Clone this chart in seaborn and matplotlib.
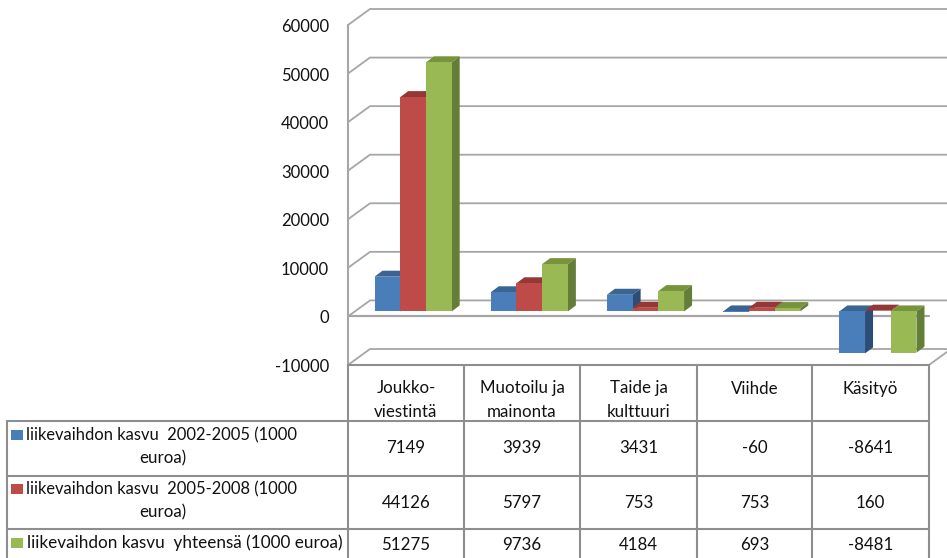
import matplotlib
matplotlib.use("Agg")
import matplotlib.pyplot as plt
import pandas as pd
import seaborn as sns
from matplotlib.patches import Polygon, Rectangle
from matplotlib.transforms import Affine2D

categories = ["Joukko-\nviestintä", "Muotoilu ja\nmainonta", "Taide ja\nkulttuuri", "Viihde", "Käsityö"]
series_names = ["liikevaihdon kasvu  2002-2005 (1000",
                "liikevaihdon kasvu  2005-2008 (1000",
                "liikevaihdon kasvu  yhteensä (1000 euroa)"]
kasvu_02_05 = [7149, 3939, 3431, -60, -8641]
kasvu_05_08 = [44126, 5797, 753, 753, 160]
kasvu_yht = [51275, 9736, 4184, 693, -8481]
y_ticks = [-10000, 0, 10000, 20000, 30000, 40000, 50000, 60000]

W, H = 947, 558
front_cols = ["#4A7EBB", "#BE4B48", "#98B954"]
top_cols = ["#3A6491", "#953735", "#77933C"]
side_cols = ["#2C4D75", "#772C2A", "#647E38"]
grid_col = "#a6a6a6"
tbl_col = "#8e8e8e"

sns.set_theme(style="white")
plt.rcParams["font.family"] = ["Lato", "DejaVu Sans"]

df = pd.DataFrame({
    "cat": categories * 3,
    "serie": ["a"] * 5 + ["b"] * 5 + ["c"] * 5,
    "val": kasvu_02_05 + kasvu_05_08 + kasvu_yht,
})

fig = plt.figure(figsize=(W / 100, H / 100), dpi=100)
# front plane of the fake 3d box, in pixels
ax = fig.add_axes([348 / W, 1 - 365 / H, 581 / W, 340 / H])
sns.barplot(data=df, x="cat", y="val", hue="serie", palette=front_cols, saturation=1,
            width=0.664, gap=0, legend=False, ax=ax)
ax.set_xlim(-0.5, 4.5)
ax.set_ylim(-10000, 60000)
ax.axis("off")


def px(x, y):
    return ax.transData.transform((x, y))


def shifted(dx, dy):
    return ax.transData + Affine2D().translate(dx, dy)


# back wall lines + diagonals
back = (22, 16)
for v in y_ticks:
    p0 = px(-0.5, v)
    ax.plot([p0[0], p0[0] + back[0], 960], [p0[1], p0[1] + back[1], p0[1] + back[1]],
            transform=None, color=grid_col, lw=1.3, clip_on=False, zorder=1)
    fig.text((p0[0] - 19) / W, (p0[1] - 2) / H, str(v), ha="right", va="center",
             fontsize=12, color="#111111")
# floor front edge and right diagonal
ax.plot([-0.5, 4.5], [0, 0], color=grid_col, lw=1.6, clip_on=False, zorder=1.5)
ax.plot([-0.5, -0.5], [-10000, 60000], color=grid_col, lw=1.5, clip_on=False, zorder=1.5)
pr = px(4.5, -10000)
ax.plot([pr[0], pr[0] + back[0]], [pr[1], pr[1] + back[1]], transform=None,
        color=grid_col, lw=1.3, clip_on=False, zorder=1.5)

# bars get moved inside the box and get a top and a side face
off = (7, 5)
depth = (8, 6)
n = len(categories)
bars = list(ax.patches)
order = sorted(range(len(bars)), key=lambda i: bars[i].get_x())
for z, i in enumerate(order):
    b = bars[i]
    k = i // n
    x0, x1 = b.get_x(), b.get_x() + b.get_width()
    lo, hi = min(0, b.get_height()), max(0, b.get_height())
    b.set_transform(shifted(*off))
    b.set_clip_on(False)
    b.set_linewidth(0)
    zz = 2 + z * 0.1
    b.set_zorder(zz + 0.02)
    a = px(x0, hi) + off
    c = px(x1, hi) + off
    d = px(x1, lo) + off
    ax.add_patch(Polygon([a, c, c + depth, a + depth], closed=True, transform=None,
                         facecolor=top_cols[k], edgecolor="none", clip_on=False, zorder=zz))
    ax.add_patch(Polygon([c, d, d + depth, c + depth], closed=True, transform=None,
                         facecolor=side_cols[k], edgecolor="none", clip_on=False, zorder=zz + 0.01))

# table drawn on a pixel overlay
tb = fig.add_axes([0, 0, 1, 1], facecolor="none")
tb.set_xlim(0, W)
tb.set_ylim(H, 0)
tb.axis("off")
col_x = [348, 464, 580, 697, 812, 929]
row_y = [421, 476, 529]
for x in col_x:
    tb.plot([x, x], [365, 560], color=tbl_col, lw=1.5, zorder=3)
tb.plot([7, 7], [421, 560], color=tbl_col, lw=1.5, zorder=3)
tb.plot([348, 929], [365, 365], color=tbl_col, lw=1.5, zorder=3)
for y in row_y:
    tb.plot([7, 929], [y, y], color=tbl_col, lw=1.5, zorder=3)

txt = dict(ha="center", va="center", fontsize=12.2, color="#111111")
for j, c in enumerate(categories):
    xc = (col_x[j] + col_x[j + 1]) / 2
    tb.text(xc, 400 if "\n" in c else 389, c, linespacing=1.55, **txt)
rows = [kasvu_02_05, kasvu_05_08, kasvu_yht]
for vals, yc in zip(rows, [448, 503, 545]):
    for j, v in enumerate(vals):
        tb.text((col_x[j] + col_x[j + 1]) / 2, yc, str(v), **txt)

for k, yc in enumerate([435, 489, 543]):
    tb.add_patch(Rectangle((11, yc - 5), 12, 10, facecolor=front_cols[k], edgecolor="none"))
    tb.text(26 if k < 2 else 27, yc, series_names[k], ha="left", va="center",
            fontsize=11.9 if k < 2 else 12.3, color="#111111")
tb.text(163, 458, "euroa)", **txt)
tb.text(163, 512, "euroa)", **txt)

fig.savefig("out.png", dpi=100)
